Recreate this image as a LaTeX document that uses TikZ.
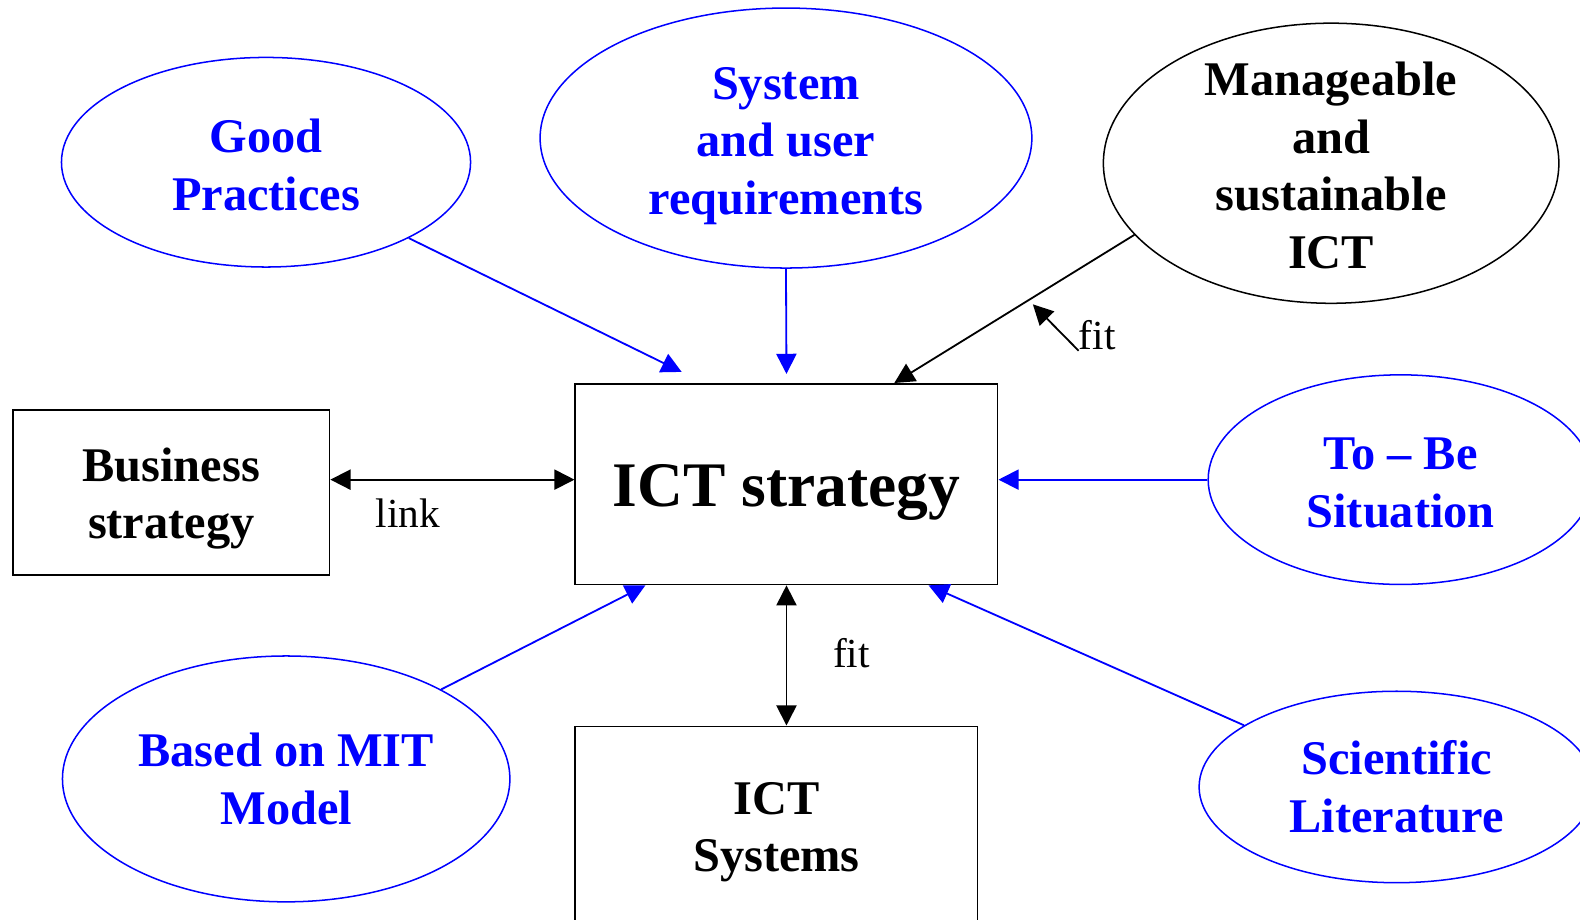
\documentclass[tikz,border=0pt]{standalone}
\usepackage{fontspec}
\setmainfont{Liberation Serif}
\usetikzlibrary{shapes.geometric,arrows.meta}
\begin{document}
\begin{tikzpicture}[x=0.5pt, y=-0.5pt, >={Triangle[length=10pt,width=10pt]},
    oval/.style={ellipse, draw, line width=0.75pt, inner sep=0pt, align=center, font=\bfseries\fontsize{24}{28.5}\selectfont},
    blueOval/.style={oval, draw=blue, text=blue},
    blackOval/.style={oval, draw=black, text=black},
    rectBox/.style={rectangle, draw, line width=0.9pt, inner sep=0pt, align=center, font=\bfseries\fontsize{24}{28.5}\selectfont},
    lbl/.style={font=\fontsize{20.5}{24}\selectfont, inner sep=0pt}]
    \useasboundingbox (0,0) rectangle (1568,913);
    \clip (0,0) rectangle (1568,913);

    \node[blueOval, minimum width=203pt, minimum height=104pt] (goodPrac) at (264,161) {\rule{0pt}{19.3pt}Good\\Practices};
    \node[blueOval, minimum width=244pt, minimum height=129pt] (sysReq) at (780,137) {\rule{0pt}{23.5pt}System\\and user\\requirements};
    \node[blackOval, inner ysep=-8pt, minimum width=226pt, minimum height=139pt] (manICT) at (1321,162) {\rule{0pt}{18.8pt}Manageable\\and\\sustainable\\ICT};
    \node[blueOval, minimum width=191pt, minimum height=104pt] (toBe) at (1390,476) {\rule{0pt}{18.8pt}To – Be\\Situation};
    \node[blueOval, minimum width=196pt, minimum height=95pt] (sciLit) at (1386,781) {Scientific\\Literature};
    \node[blueOval, minimum width=222pt, minimum height=122pt] (mitModel) at (284,773) {Based on MIT\\Model};

    \node[rectBox, minimum width=209.5pt, minimum height=99.5pt, font=\bfseries\fontsize{31.5}{36}\selectfont] (ictStrat) at (780.5,480.5) {\rule{0pt}{29.5pt}ICT strategy};
    \node[rectBox, minimum width=157pt, minimum height=82pt] (busStrat) at (170,489) {\rule{0pt}{22.3pt}Business\\strategy};
    \node[rectBox, anchor=north, minimum width=199.5pt, minimum height=105pt] (ictSys) at (770.5,720) {ICT\\Systems};

    \node[lbl] (linkLbl) at (405,509) {link};
    \node[lbl] (fitLow) at (845,648) {fit};
    \node[lbl] (fitHigh) at (1089,333) {fit};
    \coordinate (fitTip) at (1025,302);

    \draw[->, line width=0.9pt, blue] (goodPrac.-28) -- ([shift={(-104,-11)}]ictStrat.north);
    \draw[->, line width=0.9pt, blue] (sysReq.south) -- ([shift={(0,-9)}]ictStrat.north);
    \draw[->, line width=0.9pt, black] (manICT.200) -- ([shift={(107,0)}]ictStrat.north);
    \draw[->, line width=0.9pt, black] (fitHigh.south west) -- (fitTip);
    \draw[->, line width=0.9pt, blue] (toBe.west) -- (toBe.west -| ictStrat.east);
    \draw[<->, line width=0.9pt, black] ([shift={(0,-13)}]busStrat.east) -- ([shift={(0,-13)}]busStrat.east -| ictStrat.west);
    \draw[->, line width=0.9pt, blue] (mitModel.30.6) -- ([shift={(-140,0)}]ictStrat.south);
    \draw[->, line width=0.9pt, blue] (sciLit.158.3) -- ([shift={(141,0)}]ictStrat.south);
    \draw[<->, line width=0.9pt, black] (ictStrat.south) -- (ictStrat.south |- ictSys.north);

\end{tikzpicture}
\end{document}
